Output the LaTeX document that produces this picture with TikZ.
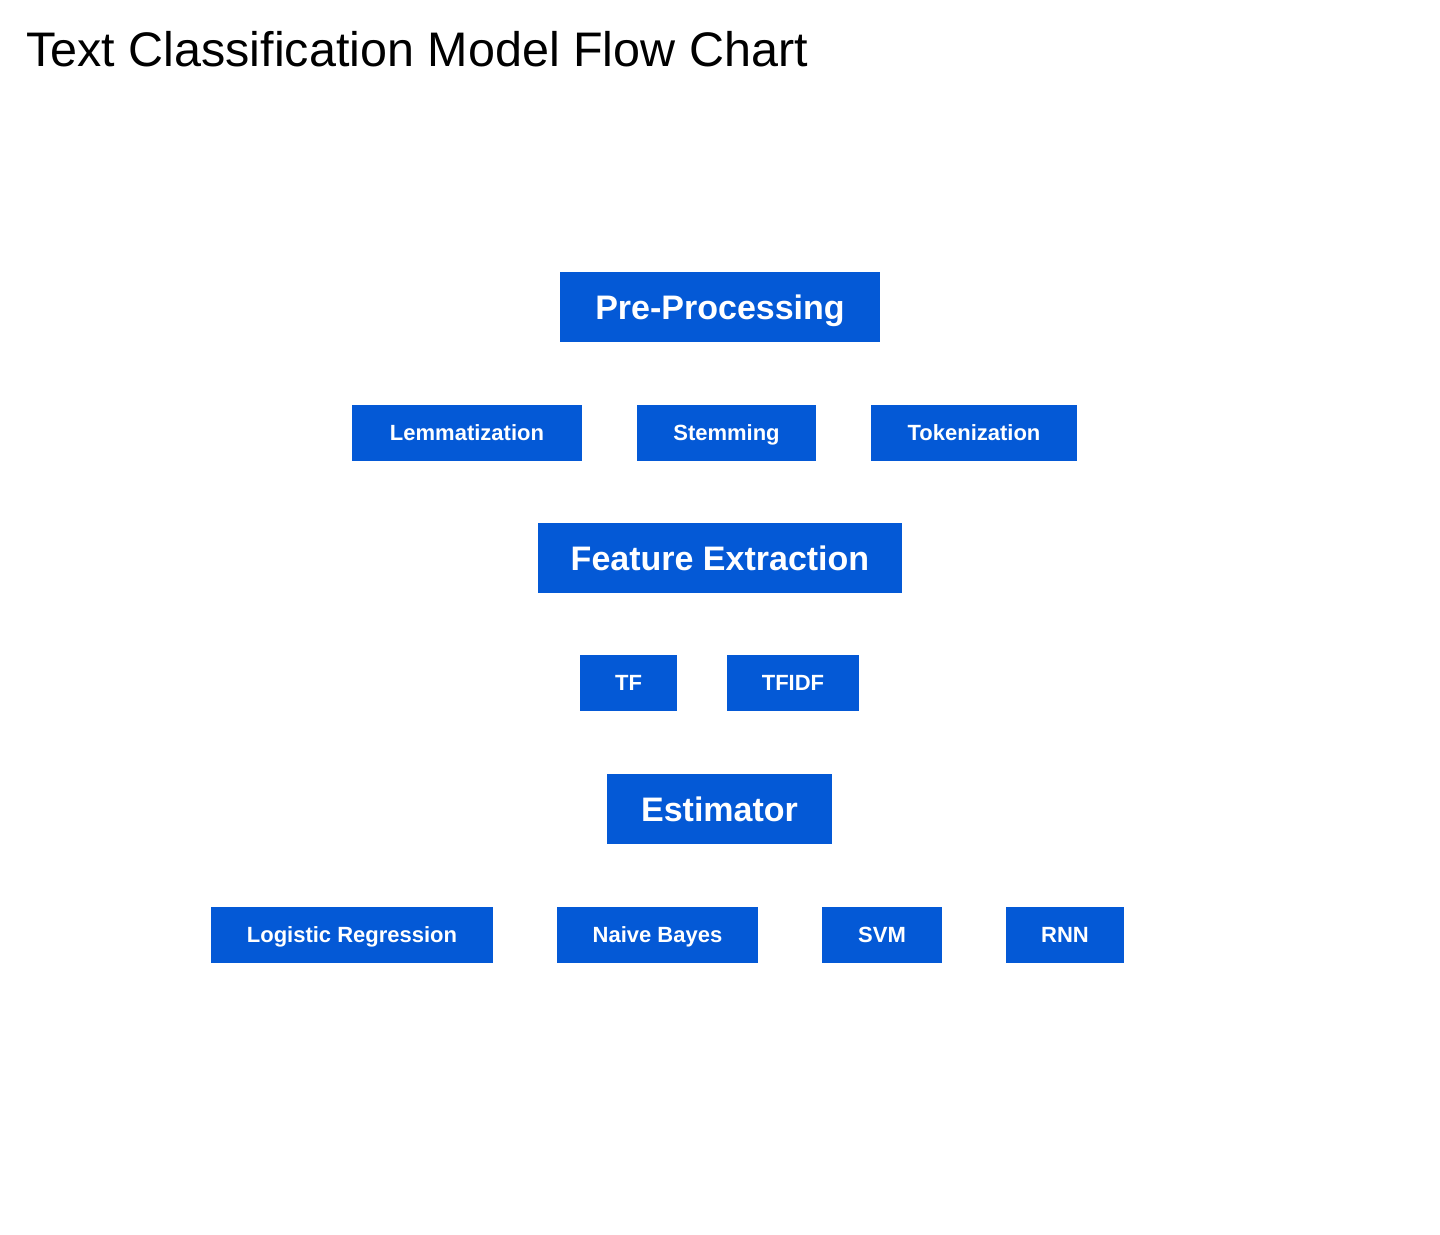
\documentclass[tikz,border=0pt]{standalone}
\usepackage{fontspec}
\setmainfont{Liberation Sans}
\definecolor{boxblue}{RGB}{4,89,214}

\begin{document}
\begin{tikzpicture}[x=1pt, y=-1pt, every node/.style={fill=boxblue, text=white, inner sep=0pt, text depth=0pt},
    stage/.style={minimum height=70pt, text height=24.5pt, font=\fontsize{34}{40}\selectfont\bfseries},
    method/.style={minimum height=56pt, text height=15.8pt, font=\fontsize{22}{26}\selectfont\bfseries}]
    \useasboundingbox (0,0) rectangle (1440,1234);

    % Title
    \node[fill=none, text=black, anchor=base west, text height=, text depth=, font=\fontsize{48.5}{56}\selectfont] (title) at (26,66) {Text Classification Model Flow Chart};

    % Pre-processing stage
    \node[stage, minimum width=320pt] (pre) at (720,307) {Pre-Processing};
    \node[method, minimum width=230pt] (lem) at (467,433) {Lemmatization};
    \node[method, minimum width=179pt] (stem) at (726.5,433) {Stemming};
    \node[method, minimum width=206pt] (tok) at (974,433) {Tokenization};

    % Feature extraction stage
    \node[stage, minimum width=364pt] (feat) at (720,558) {Feature Extraction};
    \node[method, minimum width=97pt] (tf) at (628.5,683) {TF};
    \node[method, minimum width=132pt] (tfidf) at (793,683) {TFIDF};

    % Estimator stage
    \node[stage, minimum width=225pt] (est) at (719.5,809) {Estimator};
    \node[method, minimum width=282pt] (logreg) at (352,935) {Logistic Regression};
    \node[method, minimum width=201pt] (nb) at (657.5,935) {Naive Bayes};
    \node[method, minimum width=120pt] (svm) at (882,935) {SVM};
    \node[method, minimum width=118pt] (rnn) at (1065,935) {RNN};
\end{tikzpicture}
\end{document}
